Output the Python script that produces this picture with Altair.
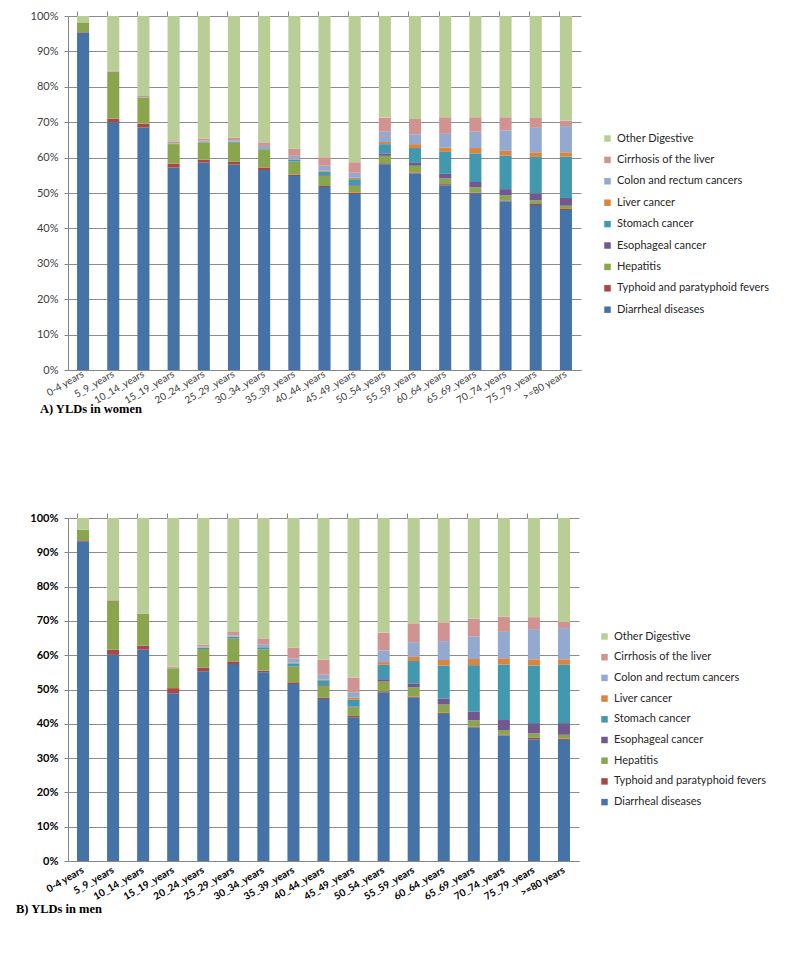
import altair as alt
import pandas as pd

ages = ["0-4 years", "5_9_years", "10_14_years", "15_19_years", "20_24_years",
        "25_29_years", "30_34_years", "35_39_years", "40_44_years", "45_49_years",
        "50_54_years", "55_59_years", "60_64_years", "65_69_years", "70_74_years",
        "75_79_years", ">=80 years"]

causes = ["Diarrheal diseases", "Typhoid and paratyphoid fevers", "Hepatitis",
          "Esophageal cancer", "Stomach cancer", "Liver cancer",
          "Colon and rectum cancers", "Cirrhosis of the liver", "Other Digestive"]

colors = ["#4572A7", "#AA4643", "#89A54E", "#71588F", "#4198AF", "#DB843D",
          "#93A9CF", "#D19392", "#B9CD96"]

# ---- A) women (percent of YLDs) ----
w_diarrheal = [95.2, 70.0, 68.5, 57.2, 58.6, 58.0, 56.5, 54.8, 51.7, 49.7, 58.1, 55.5, 52.2, 49.9, 47.7, 46.6, 45.2]
w_typhoid   = [0.2, 1.0, 1.1, 1.1, 0.8, 0.8, 0.6, 0.4, 0.3, 0.4, 0.3, 0.3, 0.3, 0.2, 0.2, 0.3, 0.3]
w_hepatitis = [2.8, 13.2, 7.4, 5.5, 4.9, 5.4, 5.1, 3.6, 2.8, 1.9, 2.1, 1.9, 1.6, 1.5, 1.4, 1.0, 0.9]
w_esoph     = [0, 0, 0, 0, 0, 0, 0.1, 0.1, 0.2, 0.2, 0.7, 0.8, 1.3, 1.5, 1.8, 2.0, 2.2]
w_stomach   = [0, 0, 0, 0.1, 0.1, 0.2, 0.3, 0.5, 1.0, 1.7, 2.6, 4.2, 6.2, 8.1, 9.5, 10.3, 11.7]
w_liver     = [0, 0, 0, 0, 0.1, 0.1, 0.1, 0.2, 0.3, 0.4, 0.6, 1.1, 1.2, 1.5, 1.3, 1.3, 1.2]
w_colon     = [0, 0.1, 0.1, 0.2, 0.3, 0.4, 0.6, 0.9, 1.4, 1.4, 2.9, 2.8, 3.9, 4.6, 5.8, 6.9, 7.4]
w_cirrhosis = [0, 0.2, 0.3, 0.5, 0.5, 0.7, 1.0, 2.0, 2.4, 3.0, 4.0, 4.3, 4.7, 4.1, 3.7, 2.8, 1.5]
w_other     = [1.8, 15.5, 22.6, 35.4, 34.7, 34.4, 35.7, 37.5, 39.9, 41.3, 28.7, 29.1, 28.6, 28.6, 28.6, 28.8, 29.6]

# ---- B) men (percent of YLDs) ----
m_diarrheal = [93.2, 60.1, 61.6, 48.9, 55.3, 57.4, 55.0, 51.6, 47.2, 41.9, 49.1, 47.6, 42.9, 38.9, 36.6, 35.5, 35.3]
m_typhoid   = [0.3, 1.5, 1.2, 1.5, 1.1, 0.8, 0.5, 0.5, 0.4, 0.4, 0.4, 0.3, 0.3, 0.3, 0.3, 0.4, 0.4]
m_hepatitis = [3.1, 14.3, 9.3, 5.8, 5.4, 6.6, 6.1, 4.6, 3.5, 2.5, 2.8, 2.7, 2.4, 1.8, 1.3, 1.3, 1.1]
m_esoph     = [0, 0, 0, 0, 0, 0, 0.1, 0.1, 0.2, 0.2, 0.7, 1.2, 1.7, 2.5, 2.9, 3.0, 3.4]
m_stomach   = [0, 0, 0, 0, 0.3, 0.5, 0.6, 0.8, 1.4, 2.0, 4.2, 6.5, 9.7, 13.6, 16.2, 16.8, 17.0]
m_liver     = [0, 0, 0, 0, 0.1, 0.1, 0.1, 0.2, 0.2, 0.6, 0.8, 1.2, 1.6, 1.8, 1.8, 1.8, 1.6]
m_colon     = [0, 0, 0, 0.1, 0.3, 0.4, 0.8, 1.2, 1.4, 1.6, 3.4, 4.3, 5.5, 6.6, 7.7, 8.8, 9.1]
m_cirrhosis = [0, 0.2, 0.1, 0.4, 0.6, 1.0, 1.7, 3.2, 4.4, 4.3, 5.2, 5.3, 5.5, 5.1, 4.4, 3.5, 1.8]
m_other     = [3.4, 23.9, 27.8, 43.3, 36.9, 33.2, 35.1, 37.8, 41.3, 46.5, 33.4, 30.9, 30.4, 29.4, 28.8, 28.9, 30.3]

women_series = [w_diarrheal, w_typhoid, w_hepatitis, w_esoph, w_stomach, w_liver, w_colon, w_cirrhosis, w_other]
men_series = [m_diarrheal, m_typhoid, m_hepatitis, m_esoph, m_stomach, m_liver, m_colon, m_cirrhosis, m_other]


def to_frame(series_list):
    rows = []
    for k, (cause, vals) in enumerate(zip(causes, series_list)):
        for age, v in zip(ages, vals):
            rows.append({"age": age, "cause": cause, "idx": k, "value": v / 100.0})
    return pd.DataFrame(rows)


legend_domain = causes[::-1]
legend_range = colors[::-1]
FONT = "Lato"


def panel(df, width, height, title, dx, bold, legend_x, legend_y, row_pad,
          min_extent, label_pad, title_offset):
    label_weight = "bold" if bold else "normal"
    label_color = "#000000" if bold else "#404040"
    xscale = alt.Scale(paddingInner=0.6, paddingOuter=0.3)
    base = alt.Chart(df)
    bars = base.mark_bar().encode(
        x=alt.X("age:N", sort=ages, scale=xscale,
                axis=alt.Axis(title=None, labelAngle=-30, labelAlign="right",
                              labelBaseline="middle", ticks=False,
                              domainColor="#868686", labelFont=FONT,
                              labelFontSize=10, labelColor=label_color,
                              labelFontWeight=label_weight, labelPadding=label_pad)),
        y=alt.Y("value:Q", stack="zero",
                scale=alt.Scale(domain=[0, 1], nice=False),
                axis=alt.Axis(title=None, format=".0%",
                              values=[i / 10 for i in range(11)],
                              gridColor="#8C8C8C", domainColor="#868686",
                              tickColor="#868686", tickSize=4, labelPadding=6,
                              minExtent=min_extent,
                              labelFont=FONT, labelFontSize=11,
                              labelColor=label_color, labelFontWeight=label_weight)),
        color=alt.Color("cause:N",
                        scale=alt.Scale(domain=legend_domain, range=legend_range),
                        legend=alt.Legend(title=None, orient="none",
                                          legendX=legend_x, legendY=legend_y,
                                          symbolType="square", symbolSize=42,
                                          symbolStrokeWidth=0, labelFont=FONT,
                                          labelFontSize=11, labelColor="#262626",
                                          rowPadding=row_pad, labelLimit=250)),
        order=alt.Order("idx:Q", sort="ascending"),
    )
    ticks = base.mark_bar(opacity=0).encode(
        x=alt.X("age:N", sort=ages, scale=xscale,
                axis=alt.Axis(title=None, labels=False, domain=False, grid=False,
                              ticks=True, tickSize=5, tickColor="#868686",
                              bandPosition=0)),
    )
    return alt.layer(bars, ticks).resolve_axis(x="independent").properties(
        width=width, height=height,
        title=alt.TitleParams(title, orient="bottom", anchor="start", frame="group",
                              font="Liberation Serif", fontSize=12.5,
                              fontWeight="bold", color="#000000", dx=dx,
                              offset=title_offset),
    )


women = panel(to_frame(women_series), 513, 354, "A) YLDs in women", -28, False,
              534, 117, 9.4, 60, 3, -2)
men = panel(to_frame(men_series), 511, 343, "B) YLDs in men", -52, True,
            531, 113, 8.7, 51, 8, 2)

chart = alt.concat(women, men, columns=1, spacing=96, align="none").resolve_legend(
    color="independent"
).properties(
    padding={"left": 0, "top": 2, "right": 0, "bottom": 0}
).configure_view(stroke=None)

chart.save("out.html", embed_options={"renderer": "svg", "actions": False})
